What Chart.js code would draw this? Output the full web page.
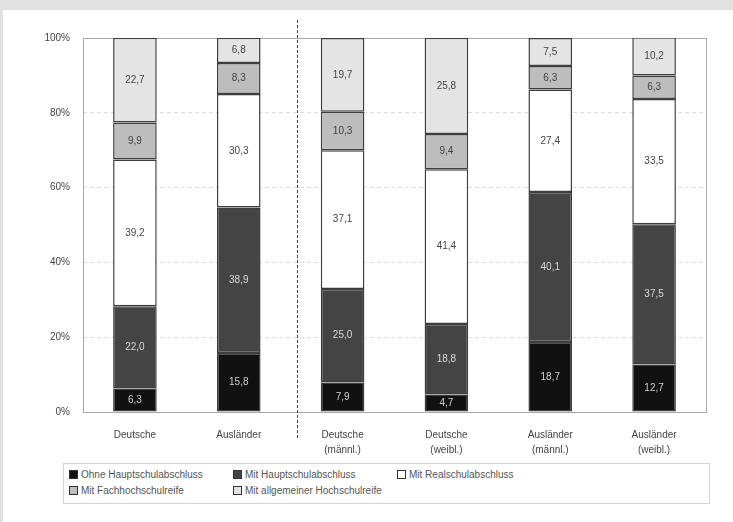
<!DOCTYPE html>
<html lang="de">
<head>
    <meta charset="UTF-8">
    <title>Schulabschlüsse nach Staatsangehörigkeit und Geschlecht</title>
    <script src="https://cdn.jsdelivr.net/npm/chart.js"></script>
    <style>
        html, body { margin: 0; padding: 0; background: #fff; overflow: hidden; }
        #page {
            position: relative; width: 733px; height: 522px; box-sizing: border-box;
            border-top: 10px solid #e1e1e1; border-left: 3px solid #e1e1e1;
        }
        #wrap { position: absolute; left: -3px; top: -10px; width: 733px; height: 460px; }
        #legend {
            position: absolute; left: 60px; top: 453px; width: 645px; height: 39px;
            border: 1px solid #d4d4d4;
            font-family: "Liberation Sans", Arial, sans-serif; font-size: 10px; color: #555;
        }
        .item { position: absolute; white-space: nowrap; line-height: 12px; }
        .box {
            display: inline-block; width: 7px; height: 7px; border: 1px solid #333;
            margin-right: 3px; vertical-align: -1px;
        }
    </style>
</head>
<body>
    <div id="page">
        <div id="wrap"><canvas id="chart" width="733" height="460"></canvas></div>
        <div id="legend"></div>
    </div>

    <script>
        // Kategorien (zweizeilige Beschriftung)
        var categories = [
            ['Deutsche'], ['Ausländer'],
            ['Deutsche', '(männl.)'], ['Deutsche', '(weibl.)'],
            ['Ausländer', '(männl.)'], ['Ausländer', '(weibl.)']
        ];

        var seriesNames = [
            'Ohne Hauptschulabschluss',
            'Mit Hauptschulabschluss',
            'Mit Realschulabschluss',
            'Mit Fachhochschulreife',
            'Mit allgemeiner Hochschulreife'
        ];

        // Anteile in Prozent
        var ohneHaupt   = [6.3, 15.8, 7.9, 4.7, 18.7, 12.7];
        var mitHaupt    = [22.0, 38.9, 25.0, 18.8, 40.1, 37.5];
        var realschule  = [39.2, 30.3, 37.1, 41.4, 27.4, 33.5];
        var fachhoch    = [9.9, 8.3, 10.3, 9.4, 6.3, 6.3];
        var hochschule  = [22.7, 6.8, 19.7, 25.8, 7.5, 10.2];

        var yTicks = [0, 20, 40, 60, 80, 100];

        var fills = ['#111111', '#444444', '#ffffff', '#bdbdbd', '#e4e4e4'];
        var labelColors = ['#cfcfcf', '#d8d8d8', '#444', '#444', '#444'];
        var allSeries = [ohneHaupt, mitHaupt, realschule, fachhoch, hochschule];

        var datasets = allSeries.map(function (vals, i) {
            return {
                label: seriesNames[i],
                data: vals,
                backgroundColor: fills[i],
                borderColor: '#3e3e3e',
                borderWidth: 1.5,
                borderSkipped: false,
                barPercentage: 0.42,
                categoryPercentage: 1.0
            };
        });

        // Werte in den Balken
        var valueLabels = {
            id: 'valueLabels',
            afterDatasetsDraw: function (chart) {
                var ctx = chart.ctx;
                ctx.save();
                ctx.font = '10px "Liberation Sans", Arial, sans-serif';
                ctx.textAlign = 'center';
                ctx.textBaseline = 'middle';
                chart.data.datasets.forEach(function (ds, i) {
                    chart.getDatasetMeta(i).data.forEach(function (bar, j) {
                        var p = bar.getProps(['x', 'y', 'base'], true);
                        ctx.fillStyle = labelColors[i];
                        ctx.fillText(ds.data[j].toFixed(1).replace('.', ','), p.x, (p.y + p.base) / 2);
                    });
                });
                ctx.restore();
            }
        };

        // gestrichelte Trennlinie zwischen Gesamt und nach Geschlecht
        var separator = {
            id: 'separator',
            afterDraw: function (chart) {
                var x = chart.scales.x;
                var step = x.getPixelForValue(2) - x.getPixelForValue(1);
                var px = Math.round((x.getPixelForValue(1) + x.getPixelForValue(2)) / 2 + step * 0.06) + 0.5;
                var ctx = chart.ctx;
                ctx.save();
                ctx.strokeStyle = '#444';
                ctx.lineWidth = 1;
                ctx.setLineDash([3, 2]);
                ctx.beginPath();
                ctx.moveTo(px, chart.chartArea.top - 18);
                ctx.lineTo(px, chart.chartArea.bottom + 28);
                ctx.stroke();
                ctx.restore();
            }
        };

        // Rahmen um die Zeichenfläche
        var plotBorder = {
            id: 'plotBorder',
            beforeDatasetsDraw: function (chart) {
                var a = chart.chartArea;
                var ctx = chart.ctx;
                ctx.save();
                ctx.strokeStyle = '#a8a8a8';
                ctx.lineWidth = 1;
                ctx.strokeRect(a.left + 0.5, a.top + 0.5, a.right - a.left, a.bottom - a.top);
                ctx.restore();
            }
        };

        Chart.defaults.font.family = '"Liberation Sans", Arial, sans-serif';
        Chart.defaults.font.size = 10;
        Chart.defaults.color = '#444';

        var chart = new Chart(document.getElementById('chart'), {
            type: 'bar',
            data: { labels: categories, datasets: datasets },
            options: {
                responsive: false,
                animation: false,
                layout: { padding: { left: 0, right: 27, top: 38, bottom: 0 } },
                plugins: { legend: { display: false }, tooltip: { enabled: false } },
                scales: {
                    x: {
                        stacked: true,
                        grid: { display: false },
                        border: { display: false },
                        ticks: { padding: 8, maxRotation: 0, autoSkip: false, font: { lineHeight: 1.45 } },
                        afterFit: function (s) { s.height = 48; }
                    },
                    y: {
                        stacked: true,
                        min: 0,
                        max: 100,
                        afterBuildTicks: function (s) {
                            s.ticks = yTicks.map(function (v) { return { value: v }; });
                        },
                        ticks: {
                            padding: 13,
                            callback: function (v) { return v + '%'; }
                        },
                        grid: { color: '#dcdcdc', drawTicks: false },
                        border: { display: false, dash: [4, 3] },
                        afterFit: function (s) { s.width = 83; }
                    }
                }
            },
            plugins: [plotBorder, valueLabels, separator]
        });

        // Legende in drei Spalten
        var legendPos = [[5, 5], [169, 5], [333, 5], [5, 21], [169, 21]];
        var legend = document.getElementById('legend');
        seriesNames.forEach(function (name, i) {
            var item = document.createElement('div');
            item.className = 'item';
            item.style.left = legendPos[i][0] + 'px';
            item.style.top = legendPos[i][1] + 'px';
            item.innerHTML = '<span class="box" style="background:' + fills[i] + '"></span>' + name;
            legend.appendChild(item);
        });
    </script>
</body>
</html>
